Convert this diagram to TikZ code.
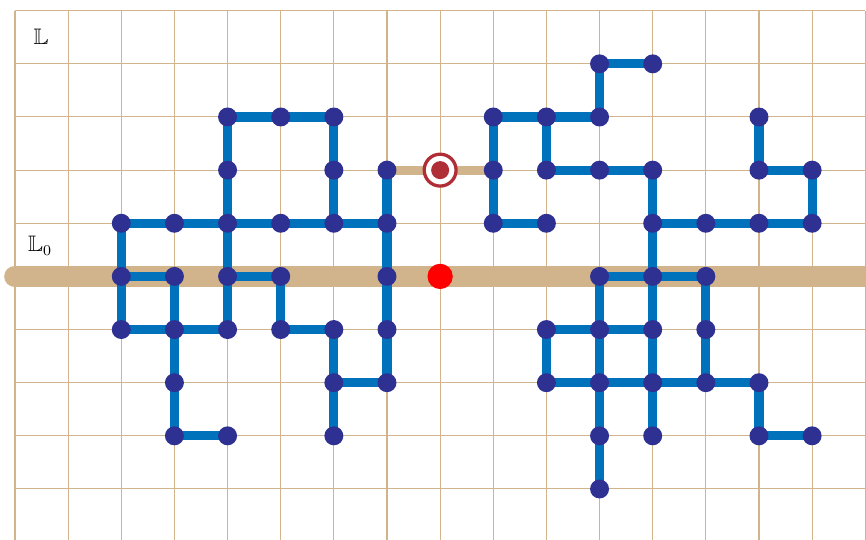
\documentclass[tikz,border=0pt]{standalone}
\usepackage{amssymb}
\definecolor{tanc}{RGB}{210,180,140}
\definecolor{edgeblue}{RGB}{0,114,188}
\definecolor{dotblue}{RGB}{46,49,146}
\definecolor{tgtred}{RGB}{176,46,54}
\pgfdeclarelayer{bg}
\pgfdeclarelayer{edges}
\pgfsetlayers{bg,edges,main}
\tikzset{
  gridline/.style={draw=tanc, line width=0.55pt},
  baseline0/.style={draw=tanc, line width=11.6pt, line cap=round},
  edge/.style={draw=edgeblue, line width=4.9pt},
  tanedge/.style={draw=tanc, line width=4.9pt},
  dot/.style={circle, fill=dotblue, inner sep=0pt, minimum size=0.357cm},
  rootdot/.style={circle, fill=red, inner sep=0pt, minimum size=0.476cm},
  tgtring/.style={circle, draw=tgtred, fill=white, line width=1.75pt, inner sep=0pt, minimum size=0.60cm},
  tgtcore/.style={circle, fill=tgtred, inner sep=0pt, minimum size=0.339cm},
  lbl/.style={inner sep=0pt, font=\large, anchor=base}
}
\begin{document}
\begin{tikzpicture}
\clip (-0.2823,-4.9416) rectangle (16.014,5.2014);
% grid and the line L0
\begin{pgfonlayer}{bg}
  \fill[white] (-0.2823,-4.9416) rectangle (16.014,5.2014);
  \draw[gridline] (0,-5) grid (16,5);
  \coordinate (l0west) at (0,0);
  \coordinate (l0east) at (16.6,0);
  \draw[baseline0] (l0west) -- (l0east);
\end{pgfonlayer}
% labels
\node[lbl] (lblL) at (0.49,4.355) {$\mathbb{L}$};
\node[lbl] (lblL0) at (0.47,0.465) {$\mathbb{L}_0$};
% vertices
\foreach \x/\y in {
  4/3,5/3,6/3,
  4/2,6/2,7/2,
  2/1,3/1,4/1,5/1,6/1,7/1,
  2/0,3/0,4/0,5/0,7/0,
  2/-1,3/-1,4/-1,5/-1,6/-1,7/-1,
  3/-2,6/-2,7/-2,
  3/-3,4/-3,6/-3,
  11/4,12/4,
  9/3,10/3,11/3,14/3,
  9/2,10/2,11/2,12/2,14/2,15/2,
  9/1,10/1,12/1,13/1,14/1,15/1,
  11/0,12/0,13/0,
  10/-1,11/-1,12/-1,13/-1,
  10/-2,11/-2,12/-2,13/-2,14/-2,
  11/-3,12/-3,14/-3,15/-3,
  11/-4}
  \node[dot] (n\x y\y) at (\x,\y) {};
% special points
\node[tgtring] (target) at (8,2) {};
\node[tgtcore] (targetcore) at (target.center) {};
\node[rootdot] (root) at (8,0) {};
% edges
\begin{pgfonlayer}{edges}
  \draw[tanedge] (n7y2.center) -- (target.center) -- (n9y2.center);
  % left cluster
  \draw[edge] (n4y2.center) -- (n4y3.center) -- (n5y3.center) -- (n6y3.center) -- (n6y2.center) -- (n6y1.center);
  \draw[edge] (n4y2.center) -- (n4y1.center) -- (n4y0.center) -- (n4y-1.center);
  \draw[edge] (n2y1.center) -- (n3y1.center) -- (n4y1.center) -- (n5y1.center) -- (n6y1.center) -- (n7y1.center);
  \draw[edge] (n7y2.center) -- (n7y1.center) -- (n7y0.center) -- (n7y-1.center) -- (n7y-2.center) -- (n6y-2.center);
  \draw[edge] (n2y1.center) -- (n2y0.center) -- (n2y-1.center) -- (n3y-1.center) -- (n4y-1.center);
  \draw[edge] (n2y0.center) -- (n3y0.center) -- (n3y-1.center) -- (n3y-2.center) -- (n3y-3.center) -- (n4y-3.center);
  \draw[edge] (n4y0.center) -- (n5y0.center) -- (n5y-1.center) -- (n6y-1.center) -- (n6y-2.center) -- (n6y-3.center);
  % right cluster
  \draw[edge] (n12y4.center) -- (n11y4.center) -- (n11y3.center) -- (n10y3.center) -- (n9y3.center) -- (n9y2.center) -- (n9y1.center) -- (n10y1.center);
  \draw[edge] (n10y3.center) -- (n10y2.center) -- (n11y2.center) -- (n12y2.center) -- (n12y1.center) -- (n12y0.center);
  \draw[edge] (n12y1.center) -- (n13y1.center) -- (n14y1.center) -- (n15y1.center) -- (n15y2.center) -- (n14y2.center) -- (n14y3.center);
  \draw[edge] (n11y0.center) -- (n12y0.center) -- (n13y0.center) -- (n13y-1.center) -- (n13y-2.center);
  \draw[edge] (n11y0.center) -- (n11y-1.center) -- (n11y-2.center) -- (n11y-3.center) -- (n11y-4.center);
  \draw[edge] (n12y0.center) -- (n12y-1.center) -- (n12y-2.center) -- (n12y-3.center);
  \draw[edge] (n12y-1.center) -- (n11y-1.center) -- (n10y-1.center) -- (n10y-2.center) -- (n11y-2.center) -- (n12y-2.center) -- (n13y-2.center) -- (n14y-2.center) -- (n14y-3.center) -- (n15y-3.center);
\end{pgfonlayer}
\end{tikzpicture}
\end{document}
